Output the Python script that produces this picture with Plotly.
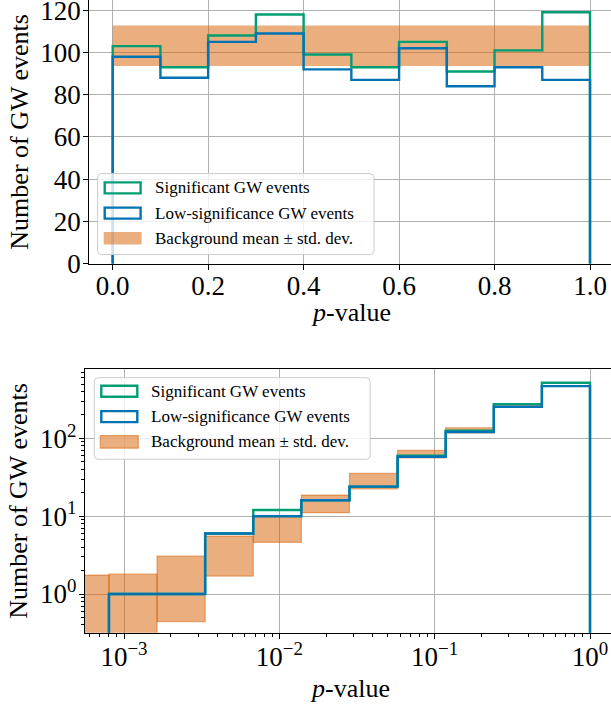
import numpy as np
import plotly.graph_objects as go

W, H = 611, 705

# ---------------- data ----------------
# Top panel: linear p-value bins 0..1 (width 0.1)
lin_edges = [0.0, 0.1, 0.2, 0.3, 0.4, 0.5, 0.6, 0.7, 0.8, 0.9, 1.0]
sig_lin = [103, 93, 108, 118, 99, 93, 105, 91, 101, 119]
low_lin = [98, 88, 105, 109, 92, 87, 102, 84, 93, 87]
bg_lin_lo = 93.6
bg_lin_hi = 112.8

# Bottom panel: log-spaced p-value bins from 8e-4 to 1
log_pmin = 8e-4
n_log_bins = 10
sig_log = [1, 1, 6, 12, 16, 24, 60, 126, 276, 519]
low_log = [1, 1, 6, 10, 16, 24, 58, 121, 255, 470]
# background band per bin (first entry is one bin below pmin; last bin not drawn)
bg_log_lo = [0.05, 0.05, 0.44, 1.70, 4.61, 11.1, 22.5, 56, 118, 250]
bg_log_hi = [1.75, 1.80, 3.08, 5.56, 9.86, 18.7, 35.5, 70, 137, 279]

labels = ["Significant GW events", "Low-significance GW events",
          "Background mean \u00b1 std. dev."]
xlabel = "<i>p</i>-value"
ylabel = "Number of GW events"

GREEN = "#029E73"
BLUE = "#0173B2"
ORANGE_FILL = "rgba(213,94,0,0.5)"
ORANGE_EDGE = "rgba(213,94,0,0.5)"
FONT = "Liberation Serif"
LW = 2.4


def step_xy(edges, counts, floor):
    xs, ys = [edges[0]], [floor]
    for i, c in enumerate(counts):
        xs += [edges[i], edges[i + 1]]
        ys += [c, c]
    xs.append(edges[-1])
    ys.append(floor)
    return xs, ys


def rects_xy(edges, lo, hi):
    xs, ys = [], []
    for i in range(len(lo)):
        x0, x1 = edges[i], edges[i + 1]
        xs += [x0, x1, x1, x0, x0, None]
        ys += [lo[i], lo[i], hi[i], hi[i], lo[i], None]
    return xs, ys


log_edges = list(np.logspace(np.log10(log_pmin), 0, n_log_bins + 1))
lstep = (0 - np.log10(log_pmin)) / n_log_bins
bg_edges = [10 ** (np.log10(log_pmin) - lstep)] + log_edges

fig = go.Figure()

# ---- top panel ----
fig.add_trace(go.Scatter(
    x=[lin_edges[0], lin_edges[-1], lin_edges[-1], lin_edges[0], lin_edges[0]],
    y=[bg_lin_lo, bg_lin_lo, bg_lin_hi, bg_lin_hi, bg_lin_lo],
    fill="toself", fillcolor=ORANGE_FILL, line=dict(width=0),
    mode="lines", showlegend=False, hoverinfo="skip", xaxis="x", yaxis="y"))
xs, ys = step_xy(lin_edges, sig_lin, 0)
fig.add_trace(go.Scatter(x=xs, y=ys, mode="lines", line=dict(color=GREEN, width=LW),
                         showlegend=False, xaxis="x", yaxis="y"))
xs, ys = step_xy(lin_edges, low_lin, 0)
fig.add_trace(go.Scatter(x=xs, y=ys, mode="lines", line=dict(color=BLUE, width=LW),
                         showlegend=False, xaxis="x", yaxis="y"))

# ---- bottom panel ----
xs, ys = rects_xy(bg_edges, bg_log_lo, bg_log_hi)
fig.add_trace(go.Scatter(x=xs, y=ys, fill="toself", fillcolor=ORANGE_FILL,
                         line=dict(color=ORANGE_EDGE, width=1.2), mode="lines",
                         showlegend=False, hoverinfo="skip", xaxis="x2", yaxis="y2"))
xs, ys = step_xy(log_edges, sig_log, 1e-3)
fig.add_trace(go.Scatter(x=xs, y=ys, mode="lines", line=dict(color=GREEN, width=LW),
                         showlegend=False, xaxis="x2", yaxis="y2"))
xs, ys = step_xy(log_edges, low_log, 1e-3)
fig.add_trace(go.Scatter(x=xs, y=ys, mode="lines", line=dict(color=BLUE, width=LW),
                         showlegend=False, xaxis="x2", yaxis="y2"))


def px_x(v):
    return v / W


def px_y(v):
    return 1 - v / H


tickfont = dict(family=FONT, size=27, color="black")
titlefont = dict(family=FONT, size=26, color="black")
common = dict(showgrid=True, gridcolor="#b0b0b0", gridwidth=1.1, zeroline=False,
              showline=True, linecolor="black", linewidth=1.1,
              ticks="outside", ticklen=5, tickwidth=1.1, tickcolor="black",
              tickfont=tickfont, automargin=False, ticklabeloverflow="allow")

fig.update_layout(
    xaxis=dict(domain=[px_x(89.3), 1], range=[-0.049, 1.044], anchor="y",
               tickvals=[0, 0.2, 0.4, 0.6, 0.8, 1.0], tickformat=".1f",
               ticklabelstandoff=-7, **common),
    yaxis=dict(domain=[px_y(263.7), 1], range=[0, 124.83], anchor="x",
               tickvals=[0, 20, 40, 60, 80, 100, 120], ticklabelstandoff=-3,
               title=dict(text=ylabel, font=titlefont, standoff=4), **common),
    xaxis2=dict(domain=[px_x(85), 1], range=[-3.2511, 0.1352], type="log", anchor="y2",
                tickvals=[1e-3, 1e-2, 1e-1, 1],
                ticktext=["10<sup>\u22123</sup>", "10<sup>\u22122</sup>",
                          "10<sup>\u22121</sup>", "10<sup>0</sup>"],
                ticklabelstandoff=-5,
                minor=dict(ticks="outside", ticklen=3, tickwidth=1, tickcolor="black",
                           tickvals=[m * 10 ** k for k in (-4, -3, -2, -1) for m in range(2, 10)],
                           showgrid=False),
                mirror=True, **common),
    yaxis2=dict(domain=[px_y(632.7), px_y(369.3)], range=[-0.4974, 2.888], type="log",
                anchor="x2",
                tickvals=[1, 10, 100],
                ticktext=["10<sup>0</sup>", "10<sup>1</sup>", "10<sup>2</sup>"],
                ticklabelstandoff=-3,
                minor=dict(ticks="outside", ticklen=3, tickwidth=1, tickcolor="black",
                           tickvals=[m * 10 ** k for k in (-1, 0, 1, 2) for m in range(2, 10)],
                           showgrid=False),
                title=dict(text=ylabel, font=titlefont, standoff=4), **common),
)

# ---- manual legends & x titles ----
shapes = []
annotations = []

# x-axis titles (centred under each axes)
annotations.append(dict(x=px_x(351), y=px_y(312), xref="paper", yref="paper",
                        text=xlabel, showarrow=False, xanchor="center", yanchor="middle",
                        font=titlefont))
annotations.append(dict(x=px_x(349.5), y=px_y(688), xref="paper", yref="paper",
                        text=xlabel, showarrow=False, xanchor="center", yanchor="middle",
                        font=titlefont))


def rounded_box(x0, y0, x1, y1, r=4):
    X = lambda v: px_x(v)
    Y = lambda v: px_y(v)
    rx, ry = r / W, r / H
    return (f"M {X(x0)+rx},{Y(y0)} L {X(x1)-rx},{Y(y0)} Q {X(x1)},{Y(y0)} {X(x1)},{Y(y0)-ry} "
            f"L {X(x1)},{Y(y1)+ry} Q {X(x1)},{Y(y1)} {X(x1)-rx},{Y(y1)} "
            f"L {X(x0)+rx},{Y(y1)} Q {X(x0)},{Y(y1)} {X(x0)},{Y(y1)+ry} "
            f"L {X(x0)},{Y(y0)-ry} Q {X(x0)},{Y(y0)} {X(x0)+rx},{Y(y0)} Z")


def add_legend(box, rows, patch_x, text_x, orange_edge):
    x0, y0, x1, y1 = box
    shapes.append(dict(type="path", path=rounded_box(x0, y0, x1, y1), xref="paper",
                       yref="paper", fillcolor="rgba(255,255,255,0.8)",
                       line=dict(color="#cccccc", width=1), layer="above"))
    colors = [GREEN, BLUE]
    for i, (yc, lab) in enumerate(zip(rows, labels)):
        px0, px1 = patch_x
        if i < 2:
            shapes.append(dict(type="rect", xref="paper", yref="paper",
                               x0=px_x(px0 + 1), x1=px_x(px1 - 1),
                               y0=px_y(yc - 5.5), y1=px_y(yc + 5.5),
                               line=dict(color=colors[i], width=2.4),
                               fillcolor="rgba(0,0,0,0)", layer="above"))
        else:
            shapes.append(dict(type="rect", xref="paper", yref="paper",
                               x0=px_x(px0), x1=px_x(px1),
                               y0=px_y(yc - 6.3), y1=px_y(yc + 6.3),
                               line=dict(color=ORANGE_EDGE if orange_edge else "rgba(0,0,0,0)",
                                         width=1.2 if orange_edge else 0),
                               fillcolor=ORANGE_FILL, layer="above"))
        annotations.append(dict(x=px_x(text_x), y=px_y(yc), xref="paper", yref="paper",
                                text=lab, showarrow=False, xanchor="left", yanchor="middle",
                                font=dict(family=FONT, size=17, color="black")))


add_legend((97.6, 173.6, 374, 254.5), [187.9, 213.1, 238.3], (103.7, 141.6), 152.5, False)
add_legend((94.3, 377.7, 370.2, 459.3), [391.3, 416.6, 441.9], (100.3, 138.3), 148.7, True)

fig.update_layout(
    width=W, height=H, margin=dict(l=0, r=0, t=0, b=0),
    paper_bgcolor="white", plot_bgcolor="white",
    shapes=shapes, annotations=annotations, showlegend=False,
)

fig.write_html("out.html")
